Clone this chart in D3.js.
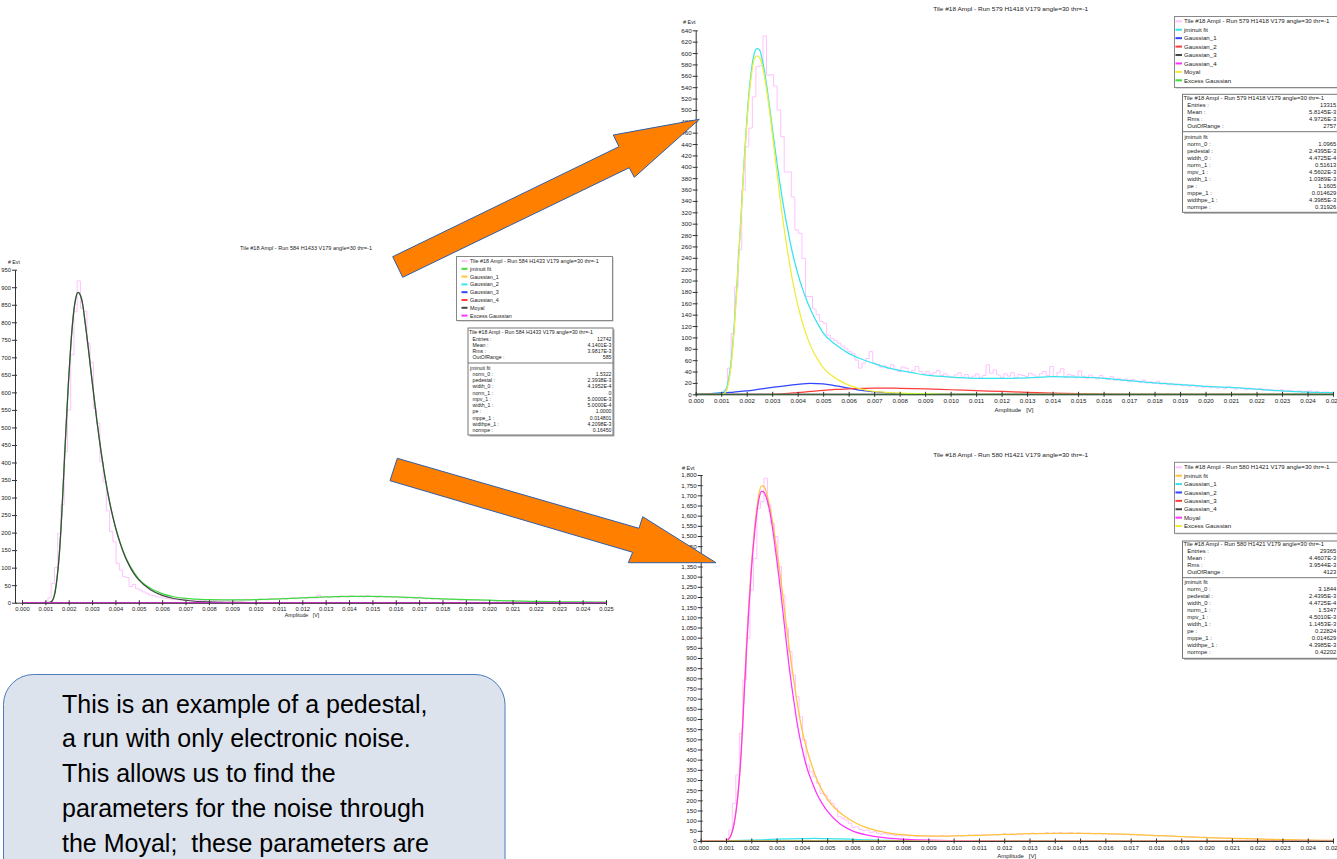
<!DOCTYPE html>
<html>
<head>
<meta charset="utf-8">
<script src="https://cdn.jsdelivr.net/npm/d3@7"></script>
<style>
  body { margin: 0; background: #fff; }
  svg { display: block; }
</style>
</head>
<body>
<svg id="fig" width="1337" height="859"></svg>
<script>
// ---------------------------------------------------------------------------
// Data: tile #18 amplitude spectra for three runs, with jminuit fit components
// ---------------------------------------------------------------------------
const binWidth = 0.025 / 180;   // histogram bin width [V]

const ampTickValues = [0, 0.001, 0.002, 0.003, 0.004, 0.005, 0.006, 0.007, 0.008, 0.009,
  0.010, 0.011, 0.012, 0.013, 0.014, 0.015, 0.016, 0.017, 0.018, 0.019,
  0.020, 0.021, 0.022, 0.023, 0.024, 0.025];

const componentNames = ["jminuit fit", "Gaussian_1", "Gaussian_2", "Gaussian_3",
  "Gaussian_4", "Moyal", "Excess Gaussian"];

// Run 584 (pedestal run) -----------------------------------------------------
const titleRun584 = "Tile #18 Ampl - Run 584 H1433 V179 angle=30 thr=-1";
const histRun584 = [0, 0, 0, 0, 0, 0, 0,
  4, 14, 55, 100, 198, 280, 431, 550, 707, 830, 918, 840, 832, 740, 686, 554, 512, 402, 345,
  262, 203, 174, 112, 93, 74, 72, 46, 52, 40, 36, 31, 27, 22, 21, 17, 16, 14, 12, 11, 9, 11, 8, 12, 9,
  7, 6, 8, 7, 5, 6, 9, 7, 6, 8, 5, 7, 6,
  8, 6, 9, 7, 8, 10, 7, 9, 8, 11, 9, 8, 12, 10, 9, 11,
  13, 10, 12, 14, 11, 13, 15, 12, 16, 14, 13, 22, 15, 17, 14, 16,
  18, 15, 19, 17, 16, 20, 18, 17, 19, 16, 21, 18, 17, 15, 19, 17,
  16, 18, 15, 17, 14, 16, 13, 15, 14, 12, 16, 13, 11, 12, 10, 12,
  11, 9, 10, 8, 11, 9, 8, 7, 9, 8, 6, 7, 8, 6, 5, 7,
  6, 5, 4, 6, 5, 4, 5, 3, 4, 5, 3, 4, 3, 2, 4, 3,
  3, 2, 3, 2, 2, 3, 1, 2, 2, 1, 2, 1, 2, 1, 1, 2, 1, 1, 2, 1];
const fitRun584 = [[0, 0], [0.0010, 0], [0.0012, 1], [0.0013, 6], [0.0014, 25], [0.0015, 70],
  [0.0016, 140], [0.0017, 250], [0.0018, 385], [0.0019, 520], [0.0020, 642], [0.0021, 745],
  [0.0022, 822], [0.0023, 868], [0.0024, 885], [0.0025, 877], [0.0026, 850], [0.0027, 800],
  [0.0028, 748], [0.0029, 690], [0.0030, 633], [0.0031, 577], [0.0032, 522], [0.0033, 471],
  [0.0034, 424], [0.0035, 380], [0.0036, 340], [0.0037, 304], [0.0038, 271], [0.0039, 242],
  [0.0040, 216], [0.0042, 172], [0.0044, 136], [0.0046, 108], [0.0048, 86], [0.0050, 68],
  [0.0055, 41], [0.0060, 26], [0.0065, 17], [0.0070, 12], [0.0075, 10], [0.0080, 8.5],
  [0.0090, 8], [0.0100, 9], [0.0110, 11], [0.0120, 14], [0.0130, 16.5], [0.0140, 18],
  [0.0150, 18], [0.0160, 16.5], [0.0170, 14], [0.0180, 11], [0.0190, 9], [0.0200, 7],
  [0.0210, 5], [0.0220, 3.5], [0.0230, 2.5], [0.0240, 2], [0.0250, 1.5]];
const moyalRun584 = [[0, 0], [0.0010, 0], [0.0012, 1], [0.0013, 6], [0.0014, 25], [0.0015, 70],
  [0.0016, 140], [0.0017, 250], [0.0018, 385], [0.0019, 520], [0.0020, 642], [0.0021, 745],
  [0.0022, 822], [0.0023, 868], [0.0024, 885], [0.0025, 877], [0.0026, 850], [0.0027, 800],
  [0.0028, 748], [0.0029, 690], [0.0030, 633], [0.0031, 577], [0.0032, 522], [0.0033, 471],
  [0.0034, 424], [0.0035, 380], [0.0036, 340], [0.0037, 304], [0.0038, 271], [0.0039, 242],
  [0.0040, 215], [0.0042, 170], [0.0044, 133], [0.0046, 105], [0.0048, 82], [0.0050, 65],
  [0.0055, 37], [0.0060, 21], [0.0065, 12], [0.0070, 7], [0.0080, 2], [0.0090, 1],
  [0.0100, 0], [0.0250, 0]];
const statsRun584 = [["Entries :", "12742"], ["Mean :", "4.1401E-3"], ["Rms :", "3.9817E-3"], ["OutOfRange :", "585"]];
const paramsRun584 = [["norm_0 :", "1.5322"], ["pedestal :", "2.3938E-3"], ["width_0 :", "4.1952E-4"],
  ["norm_1 :", "0"], ["mpv_1 :", "5.0000E-3"], ["width_1 :", "5.0000E-4"], ["pe :", "1.0000"],
  ["mppe_1 :", "0.014801"], ["widthpe_1 :", "4.2098E-3"], ["normpe :", "0.16450"]];

// Run 579 --------------------------------------------------------------------
const titleRun579 = "Tile #18 Ampl - Run 579 H1418 V179 angle=30 thr=-1";
const histRun579 = [0, 0, 0, 0, 0, 0, 0, 1,
  8, 46, 107, 189, 254, 359, 435, 468, 523, 576, 578, 630, 561, 562, 542, 500, 453, 391, 391,
  347, 289, 283, 239, 172, 172, 150, 140, 128, 125, 104, 98, 95, 90, 85, 80, 75, 72, 60, 46, 55, 63, 75, 55,
  52, 48, 50, 45, 52, 44, 40, 48, 46, 38, 42, 49, 40,
  36, 40, 35, 38, 42, 33, 36, 32, 30, 34, 38, 30, 35, 28, 32, 36,
  30, 33, 52, 37, 43, 34, 30, 36, 32, 38, 29, 35, 33, 31, 37, 34,
  30, 36, 40, 33, 49, 31, 38, 45, 30, 35, 33, 29, 41, 32, 28, 34,
  30, 27, 33, 29, 26, 31, 25, 28, 24, 27, 22, 26, 23, 21, 25, 20,
  22, 19, 23, 18, 20, 17, 19, 16, 18, 15, 17, 14, 16, 13, 15, 12,
  14, 12, 13, 11, 12, 10, 13, 11, 9, 12, 10, 8, 11, 9, 8, 10,
  7, 9, 8, 6, 7, 8, 5, 7, 6, 5, 6, 4, 5, 6, 4, 5, 3, 4, 4, 3];
const fitRun579 = [[0, 0], [0.0005, 1], [0.0010, 3], [0.0011, 4], [0.0012, 10], [0.0013, 28],
  [0.0014, 62], [0.0015, 115], [0.0016, 180], [0.0017, 255], [0.0018, 330], [0.0019, 410],
  [0.0020, 478], [0.0021, 535], [0.0022, 575], [0.0023, 600], [0.0024, 608], [0.0025, 606],
  [0.0026, 590], [0.0027, 568], [0.0028, 538], [0.0029, 505], [0.0030, 470], [0.0031, 436],
  [0.0032, 403], [0.0033, 372], [0.0034, 343], [0.0035, 316], [0.0036, 292], [0.0037, 269],
  [0.0038, 248], [0.0039, 230], [0.0040, 213], [0.0042, 184], [0.0044, 160], [0.0046, 140],
  [0.0048, 123], [0.0050, 108], [0.0055, 87], [0.0060, 72], [0.0065, 62], [0.0070, 54],
  [0.0075, 47], [0.0080, 42], [0.0085, 38], [0.0090, 34], [0.0095, 32], [0.0100, 30],
  [0.0110, 28], [0.0120, 28], [0.0130, 29], [0.0140, 31], [0.0150, 30], [0.0160, 28],
  [0.0170, 24], [0.0180, 20], [0.0190, 17], [0.0200, 14], [0.0210, 12], [0.0220, 9],
  [0.0230, 6], [0.0240, 4], [0.0250, 3]];
const gauss1Run579 = [[0, 0], [0.0010, 2], [0.0015, 4], [0.0020, 6], [0.0025, 9], [0.0030, 12],
  [0.0035, 15], [0.0040, 17.5], [0.0045, 19], [0.0050, 18.5], [0.0055, 15], [0.0060, 11],
  [0.0065, 7], [0.0070, 4.5], [0.0075, 2.5], [0.0080, 1.2], [0.0085, 0.5], [0.0090, 0], [0.0250, 0]];
const gauss2Run579 = [[0, 0], [0.0030, 0], [0.0035, 1], [0.0040, 3], [0.0045, 5], [0.0050, 7],
  [0.0055, 8.5], [0.0060, 9.5], [0.0065, 10.5], [0.0070, 11], [0.0075, 11], [0.0080, 10.5],
  [0.0090, 9.5], [0.0100, 8], [0.0110, 6.5], [0.0120, 5], [0.0130, 3.5], [0.0140, 2],
  [0.0150, 1], [0.0160, 0.5], [0.0170, 0], [0.0250, 0]];
const moyalRun579 = [[0, 0], [0.0010, 0], [0.0011, 1], [0.0012, 6], [0.0013, 22], [0.0014, 55],
  [0.0015, 108], [0.0016, 175], [0.0017, 250], [0.0018, 328], [0.0019, 405], [0.0020, 472],
  [0.0021, 527], [0.0022, 566], [0.0023, 590], [0.0024, 595], [0.0025, 592], [0.0026, 580],
  [0.0027, 558], [0.0028, 530], [0.0029, 497], [0.0030, 460], [0.0031, 423], [0.0032, 385],
  [0.0033, 348], [0.0034, 313], [0.0035, 282], [0.0036, 252], [0.0037, 225], [0.0038, 200],
  [0.0039, 178], [0.0040, 158], [0.0042, 124], [0.0044, 97], [0.0046, 76], [0.0048, 60],
  [0.0050, 47], [0.0055, 28], [0.0060, 16], [0.0065, 9], [0.0070, 5], [0.0080, 2],
  [0.0090, 1], [0.0100, 0], [0.0250, 0]];
const statsRun579 = [["Entries :", "13315"], ["Mean :", "5.8145E-3"], ["Rms :", "4.9726E-3"], ["OutOfRange :", "2757"]];
const paramsRun579 = [["norm_0 :", "1.0965"], ["pedestal :", "2.4395E-3"], ["width_0 :", "4.4725E-4"],
  ["norm_1 :", "0.51613"], ["mpv_1 :", "4.5602E-3"], ["width_1 :", "1.0389E-3"], ["pe :", "1.1605"],
  ["mppe_1 :", "0.014629"], ["widthpe_1 :", "4.3985E-3"], ["normpe :", "0.31926"]];

// Run 580 --------------------------------------------------------------------
const titleRun580 = "Tile #18 Ampl - Run 580 H1421 V179 angle=30 thr=-1";
const histRun580 = [0, 0, 0, 0, 0, 0, 0,
  12, 54, 185, 325, 530, 792, 997, 1234, 1390, 1636, 1669, 1784, 1652, 1562, 1497, 1349, 1210, 1046, 931,
  816, 710, 611, 497, 374, 341, 316, 284, 234, 226, 202, 185, 161, 120, 111, 103, 87, 67, 70, 57, 51, 54, 41, 46, 38,
  34, 36, 30, 32, 27, 29, 25, 28, 24, 26, 22, 25, 23,
  26, 22, 25, 23, 27, 24, 22, 26, 25, 28, 24, 27, 29, 26, 30, 27,
  31, 28, 30, 33, 29, 32, 35, 31, 34, 30, 36, 33, 37, 34, 39, 35,
  38, 36, 41, 37, 40, 38, 42, 36, 39, 41, 37, 40, 38, 36, 39, 37,
  35, 38, 34, 36, 33, 35, 32, 34, 31, 33, 30, 32, 29, 31, 28, 27,
  29, 26, 25, 27, 24, 23, 25, 22, 21, 23, 20, 19, 21, 18, 17, 19,
  16, 17, 15, 16, 14, 13, 15, 12, 13, 11, 12, 10, 11, 9, 10, 9,
  9, 8, 9, 7, 8, 7, 6, 7, 6, 5, 6, 5, 4, 5, 4, 4, 3, 4, 3, 3];
const fitRun580 = [[0, 0], [0.0009, 1], [0.0010, 3], [0.0011, 10], [0.0012, 30], [0.0013, 75],
  [0.0014, 150], [0.0015, 270], [0.0016, 440], [0.0017, 690], [0.0018, 940], [0.0019, 1160],
  [0.0020, 1350], [0.0021, 1500], [0.0022, 1620], [0.0023, 1705], [0.0024, 1745], [0.0025, 1745],
  [0.0026, 1712], [0.0027, 1662], [0.0028, 1600], [0.0029, 1525], [0.0030, 1440], [0.0031, 1350],
  [0.0032, 1255], [0.0033, 1150], [0.0034, 1048], [0.0035, 950], [0.0036, 860], [0.0037, 775],
  [0.0038, 690], [0.0039, 615], [0.0040, 550], [0.0042, 450], [0.0044, 370], [0.0046, 300],
  [0.0048, 250], [0.0050, 207], [0.0055, 140], [0.0060, 97], [0.0065, 68], [0.0070, 50],
  [0.0075, 38], [0.0080, 31], [0.0085, 27], [0.0090, 25], [0.0095, 24], [0.0100, 25],
  [0.0105, 26], [0.0110, 28], [0.0115, 30], [0.0120, 32], [0.0130, 36], [0.0140, 38],
  [0.0150, 38], [0.0160, 36], [0.0170, 32], [0.0180, 27], [0.0190, 22], [0.0200, 17],
  [0.0210, 13], [0.0220, 10], [0.0230, 7], [0.0240, 4], [0.0250, 3]];
const gauss1Run580 = [[0, 0], [0.0010, 1], [0.0020, 4], [0.0025, 6], [0.0030, 9], [0.0035, 11],
  [0.0040, 12], [0.0045, 12.5], [0.0050, 12], [0.0055, 10.5], [0.0060, 8.5], [0.0065, 6],
  [0.0070, 4], [0.0075, 2.5], [0.0080, 1.5], [0.0090, 0.5], [0.0100, 0], [0.0250, 0]];
const moyalRun580 = [[0, 0], [0.0009, 0], [0.0010, 2], [0.0011, 8], [0.0012, 28], [0.0013, 72],
  [0.0014, 148], [0.0015, 265], [0.0016, 430], [0.0017, 670], [0.0018, 915], [0.0019, 1135],
  [0.0020, 1325], [0.0021, 1475], [0.0022, 1595], [0.0023, 1680], [0.0024, 1720], [0.0025, 1715],
  [0.0026, 1688], [0.0027, 1640], [0.0028, 1570], [0.0029, 1485], [0.0030, 1390], [0.0031, 1290],
  [0.0032, 1185], [0.0033, 1072], [0.0034, 962], [0.0035, 855], [0.0036, 760], [0.0037, 675],
  [0.0038, 590], [0.0039, 520], [0.0040, 460], [0.0042, 360], [0.0044, 290], [0.0046, 230],
  [0.0048, 185], [0.0050, 148], [0.0055, 85], [0.0060, 50], [0.0065, 31], [0.0070, 20],
  [0.0075, 13], [0.0080, 9], [0.0085, 6], [0.0090, 4], [0.0100, 2], [0.0110, 1],
  [0.0120, 0], [0.0250, 0]];
const statsRun580 = [["Entries :", "29365"], ["Mean :", "4.4607E-3"], ["Rms :", "3.9544E-3"], ["OutOfRange :", "4123"]];
const paramsRun580 = [["norm_0 :", "3.1844"], ["pedestal :", "2.4395E-3"], ["width_0 :", "4.4725E-4"],
  ["norm_1 :", "1.5347"], ["mpv_1 :", "4.5010E-3"], ["width_1 :", "1.1453E-3"], ["pe :", "0.22824"],
  ["mppe_1 :", "0.014629"], ["widthpe_1 :", "4.3985E-3"], ["normpe :", "0.42202"]];

// components whose fitted norm is zero lie on the axis
const zeroComponent = [[0, 0], [0.025, 0]];

const noteLines = [
  "This is an example of a pedestal,",
  "a run with only electronic noise.",
  "This allows us to find the",
  "parameters for the noise through",
  "the Moyal;  these parameters are"
];

// ---------------------------------------------------------------------------
// Styling
// ---------------------------------------------------------------------------
const FONT = '"Liberation Sans", Arial, sans-serif';
const C = {
  data: "#ffc2ff", green: "#3fdc3f", orange: "#ffc53a", cyan: "#35e4ee", blue: "#2f45ff",
  red: "#ff3b3b", gray: "#454545", magenta: "#ff35ff", yellow: "#f0ec3a", axis: "#333", text: "#222"
};

const svg = d3.select("#fig");

function drawPanel(cfg) {
  const g = svg.append("g");
  const x = d3.scaleLinear().domain(cfg.xDomain).range([cfg.x0, cfg.x1]);
  const y = d3.scaleLinear().domain([0, cfg.yMax]).range([cfg.yBottom, cfg.yTop]);

  // histogram outline
  const pts = cfg.hist.map((v, i) => [i * binWidth, v]);
  pts.push([cfg.hist.length * binWidth, cfg.hist[cfg.hist.length - 1]]);
  g.append("path")
    .attr("d", d3.line().x(d => x(d[0])).y(d => y(d[1])).curve(d3.curveStepAfter)(pts))
    .attr("fill", "none").attr("stroke", C.data).attr("stroke-width", 1);

  // fit curves
  const line = d3.line().x(d => x(d[0])).y(d => y(d[1])).curve(d3.curveMonotoneX);
  cfg.curves.forEach(c => {
    g.append("path").attr("d", line(c.data)).attr("fill", "none")
      .attr("stroke", c.color).attr("stroke-width", 1.25);
  });

  // axes
  const xAxis = d3.axisBottom(x).tickValues(ampTickValues).tickFormat(d3.format(".3f"))
    .tickSizeInner(3).tickSizeOuter(0).tickPadding(1.5);
  const gx = g.append("g").attr("transform", `translate(0,${cfg.yBottom})`).call(xAxis)
    .attr("font-family", FONT).attr("font-size", cfg.tickFont);
  gx.select(".domain").attr("stroke", C.axis);
  gx.selectAll(".tick line").attr("y1", -2.5).attr("y2", 2.5).attr("stroke", C.axis);
  gx.selectAll(".tick text").attr("fill", C.text);

  const yAxis = d3.axisLeft(y).tickValues(d3.range(0, cfg.yMax + 1, cfg.yStep))
    .tickFormat(cfg.yFormat).tickSizeInner(3).tickSizeOuter(0).tickPadding(1);
  const gy = g.append("g").attr("transform", `translate(${cfg.x0},0)`).call(yAxis)
    .attr("font-family", FONT).attr("font-size", cfg.tickFont);
  gy.select(".domain").attr("stroke", C.axis);
  gy.selectAll(".tick line").attr("x1", 2).attr("x2", -3).attr("stroke", C.axis);
  gy.selectAll(".tick text").attr("fill", C.text);

  // titles
  g.append("text").attr("x", cfg.title.x).attr("y", cfg.title.y)
    .attr("text-anchor", "middle").attr("font-family", FONT).attr("font-size", cfg.title.size)
    .attr("textLength", cfg.title.len).attr("lengthAdjust", "spacingAndGlyphs")
    .attr("fill", C.text).text(cfg.titleText);
  g.append("text").attr("x", cfg.evt.x).attr("y", cfg.evt.y)
    .attr("font-family", FONT).attr("font-size", cfg.evt.size).attr("fill", C.text).text("# Evt");
  g.append("text").attr("x", cfg.ampl.x).attr("y", cfg.ampl.y).attr("text-anchor", "middle")
    .style("white-space", "pre")
    .attr("font-family", FONT).attr("font-size", cfg.ampl.size).attr("fill", C.text).text("Amplitude   [V]");

  // legend
  const L = cfg.legend;
  g.append("rect").attr("x", L.x + 1).attr("y", L.y + 1).attr("width", L.w).attr("height", L.h).attr("fill", "#bbb");
  g.append("rect").attr("x", L.x).attr("y", L.y).attr("width", L.w).attr("height", L.h)
    .attr("fill", "#fff").attr("stroke", "#888").attr("stroke-width", 1);
  const names = [cfg.titleText].concat(componentNames);
  names.forEach((n, i) => {
    const cy = L.row0 + i * L.dy;
    g.append("line").attr("x1", L.sw0).attr("x2", L.sw1).attr("y1", cy).attr("y2", cy)
      .attr("stroke", cfg.legendColors[i]).attr("stroke-width", 2);
    g.append("text").attr("x", L.tx).attr("y", cy + 0.36 * L.font).attr("font-family", FONT)
      .attr("font-size", L.font).attr("fill", C.text).text(n);
  });

  // statistics box
  const S = cfg.stats;
  g.append("rect").attr("x", S.x + 1.5).attr("y", S.y + 1.5).attr("width", S.w).attr("height", S.h).attr("fill", "#aaa");
  g.append("rect").attr("x", S.x).attr("y", S.y).attr("width", S.w).attr("height", S.h)
    .attr("fill", "#fff").attr("stroke", "#777").attr("stroke-width", 1);
  const st = (tx, ty, s, anchor) => g.append("text").attr("x", tx).attr("y", ty + 0.36 * S.font)
    .attr("font-family", FONT).attr("font-size", S.font).attr("fill", C.text)
    .attr("text-anchor", anchor || "start").text(s);
  st(S.x + 1, S.head, cfg.titleText);
  cfg.statRows.forEach((r, i) => {
    st(S.lx, S.row0 + i * S.dy, r[0]);
    st(S.vx, S.row0 + i * S.dy, r[1], "end");
  });
  g.append("line").attr("x1", S.x).attr("x2", S.x + S.w).attr("y1", S.sep).attr("y2", S.sep)
    .attr("stroke", "#777").attr("stroke-width", 1);
  st(S.x + 2, S.fit, "jminuit fit");
  cfg.paramRows.forEach((r, i) => {
    st(S.lx, S.par0 + i * S.pdy, r[0]);
    st(S.vx, S.par0 + i * S.pdy, r[1], "end");
  });
}

// Run 584 (left)
drawPanel({
  xDomain: [-0.0003, 0.025], x0: 15, x1: 606, yTop: 269.7, yBottom: 602.7, yMax: 950, yStep: 50,
  yFormat: d3.format("d"), tickFont: 5.8,
  titleText: titleRun584, title: { x: 306, y: 250, size: 5.3, len: 132 },
  evt: { x: 8, y: 264, size: 5.2 }, ampl: { x: 302, y: 617, size: 5.3 },
  hist: histRun584,
  curves: [
    { data: fitRun584, color: C.green },
    { data: zeroComponent, color: C.orange }, { data: zeroComponent, color: C.cyan },
    { data: zeroComponent, color: C.blue }, { data: zeroComponent, color: C.red },
    { data: moyalRun584, color: C.gray }, { data: zeroComponent, color: C.magenta }
  ],
  legendColors: [C.data, C.green, C.orange, C.cyan, C.blue, C.red, C.gray, C.magenta],
  legend: { x: 456.5, y: 256.5, w: 156, h: 64, row0: 261, dy: 7.8, sw0: 461.5, sw1: 467.5, tx: 470, font: 5.4 },
  stats: { x: 468, y: 328, w: 145, h: 107, head: 332.3, lx: 472.5, vx: 611.5, row0: 339, dy: 6.2,
           sep: 363, fit: 367.7, par0: 374, pdy: 6.25, font: 5.2 },
  statRows: statsRun584, paramRows: paramsRun584
});

// Run 579 (top right)
drawPanel({
  xDomain: [0, 0.025], x0: 695.7, x1: 1333, yTop: 30.3, yBottom: 394.3, yMax: 640, yStep: 20,
  yFormat: d3.format("d"), tickFont: 6.2,
  titleText: titleRun579, title: { x: 1010.7, y: 10.5, size: 6.1, len: 155 },
  evt: { x: 683, y: 24.3, size: 5.5 }, ampl: { x: 1014, y: 411.5, size: 6 },
  hist: histRun579,
  curves: [
    { data: fitRun579, color: C.cyan },
    { data: gauss1Run579, color: C.blue }, { data: gauss2Run579, color: C.red },
    { data: zeroComponent, color: C.gray }, { data: zeroComponent, color: C.magenta },
    { data: moyalRun579, color: C.yellow }, { data: zeroComponent, color: C.green }
  ],
  legendColors: [C.data, C.cyan, C.blue, C.red, C.gray, C.magenta, C.yellow, C.green],
  legend: { x: 1174.5, y: 16.5, w: 170, h: 71, row0: 21.3, dy: 8.43, sw0: 1175.5, sw1: 1182, tx: 1184, font: 6.1 },
  stats: { x: 1182.5, y: 94.3, w: 160, h: 118, head: 98, lx: 1187.3, vx: 1336.3, row0: 105, dy: 7,
           sep: 131.7, fit: 136.7, par0: 143.7, pdy: 7, font: 5.9 },
  statRows: statsRun579, paramRows: paramsRun579
});

// Run 580 (bottom right)
drawPanel({
  xDomain: [0, 0.025], x0: 700.7, x1: 1333, yTop: 475, yBottom: 841, yMax: 1800, yStep: 50,
  yFormat: d3.format(","), tickFont: 6.2,
  titleText: titleRun580, title: { x: 1010.7, y: 456.5, size: 6.1, len: 155 },
  evt: { x: 682, y: 469.5, size: 5.5 }, ampl: { x: 1016.7, y: 858, size: 6 },
  hist: histRun580,
  curves: [
    { data: fitRun580, color: C.orange },
    { data: gauss1Run580, color: C.cyan }, { data: zeroComponent, color: C.blue },
    { data: zeroComponent, color: C.red }, { data: zeroComponent, color: C.gray },
    { data: moyalRun580, color: C.magenta }, { data: zeroComponent, color: C.yellow }
  ],
  legendColors: [C.data, C.orange, C.cyan, C.blue, C.red, C.gray, C.magenta, C.yellow],
  legend: { x: 1174.5, y: 462.3, w: 170, h: 71, row0: 467.3, dy: 8.39, sw0: 1175.5, sw1: 1182, tx: 1184, font: 6.1 },
  stats: { x: 1182.5, y: 541, w: 160, h: 117.3, head: 544.3, lx: 1187.3, vx: 1336.3, row0: 551.3, dy: 7,
           sep: 577.7, fit: 582.3, par0: 589.3, pdy: 6.9, font: 5.9 },
  statRows: statsRun580, paramRows: paramsRun580
});

// ---------------------------------------------------------------------------
// Annotation arrows pointing from the pedestal run to the two other runs
// ---------------------------------------------------------------------------
const arrowShapes = [
  [[392.7, 256.7], [619, 146.7], [613.3, 135], [699.3, 119.3], [634.3, 177.3], [629.3, 167.7], [402.7, 277.3]],
  [[397.3, 458.3], [639, 528.3], [642.7, 516.7], [716, 562.7], [628.3, 562.7], [632.7, 552.3], [390, 480.7]]
];
svg.append("g").selectAll("polygon").data(arrowShapes).join("polygon")
  .attr("points", d => d.map(p => p.join(",")).join(" "))
  .attr("fill", "#ff8000").attr("stroke", "#2f5ea8").attr("stroke-width", 1);

// ---------------------------------------------------------------------------
// Explanatory note
// ---------------------------------------------------------------------------
const note = svg.append("g");
note.append("rect").attr("x", 3.5).attr("y", 674.5).attr("width", 501.5).attr("height", 260)
  .attr("rx", 30).attr("fill", "#dce3ed").attr("stroke", "#4f7bbd").attr("stroke-width", 1);
note.selectAll("text").data(noteLines).join("text")
  .attr("x", 62).attr("y", (d, i) => 712.7 + i * 34.75)
  .attr("font-family", FONT).attr("font-size", 25).attr("fill", "#000")
  .style("white-space", "pre").text(d => d);
</script>
</body>
</html>
